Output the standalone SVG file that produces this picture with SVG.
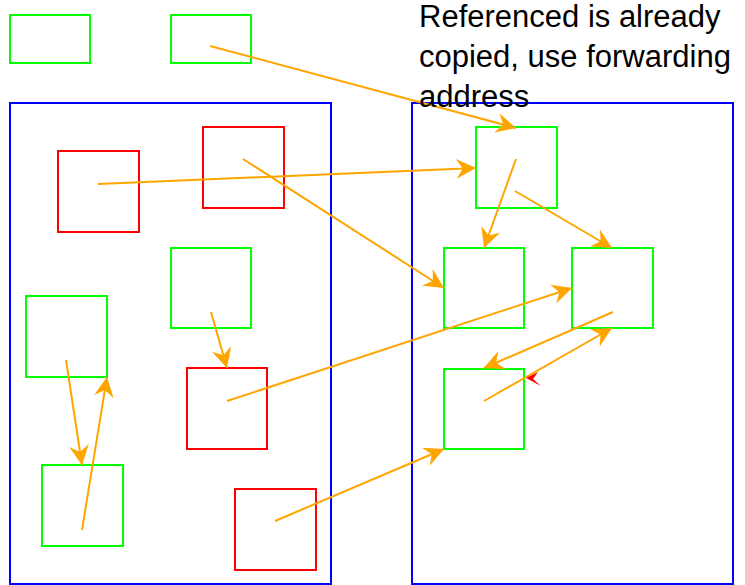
<svg xmlns="http://www.w3.org/2000/svg" width="745" height="585" viewBox="0 0 745 585">
<style>
.space{fill:none;stroke:#0000FF;stroke-width:2}
.live{fill:none;stroke:#00FF00;stroke-width:2}
.dead{fill:none;stroke:#FF0000;stroke-width:2}
.ptr{fill:none;stroke:#FFA500;stroke-width:2;marker-end:url(#ah)}
.label{font-family:"Liberation Sans",Arial,sans-serif;font-size:31px;fill:#000}
</style>
<defs>
<marker id="ah" markerUnits="userSpaceOnUse" markerWidth="22" markerHeight="22" viewBox="-19 -10 20 20" refX="0" refY="0" orient="auto">
<path d="M0,0 L-18,-9 L-12,0 L-18,9 Z" fill="#FFA500"/>
</marker>
</defs>
<g id="roots">
<rect id="root1" class="live" x="10" y="15" width="80" height="48"/>
<rect id="root2" class="live" x="171" y="15" width="80" height="48"/>
</g>
<g id="from-space">
<rect class="space" x="10" y="103" width="321" height="481"/>
</g>
<g id="to-space">
<rect class="space" x="412" y="103" width="321" height="481"/>
</g>
<g id="L1"><rect class="dead" x="58" y="151" width="81" height="81"/></g>
<g id="L2"><rect class="dead" x="203" y="127" width="81" height="81"/></g>
<g id="L3"><rect class="live" x="171" y="248" width="80" height="80"/></g>
<g id="L4"><rect class="live" x="26" y="296" width="81" height="81"/></g>
<g id="L5"><rect class="dead" x="187" y="368" width="80" height="81"/></g>
<g id="L6"><rect class="live" x="42" y="465" width="81" height="81"/></g>
<g id="L7"><rect class="dead" x="235" y="489" width="81" height="81"/></g>
<g id="R1"><rect class="live" x="476" y="127" width="81" height="81"/></g>
<g id="R2"><rect class="live" x="444" y="248" width="80" height="80"/></g>
<g id="R3"><rect class="live" x="572" y="248" width="81" height="80"/></g>
<g id="R4"><rect class="live" x="444" y="369" width="80" height="80"/></g>
<g id="connectors">
<line class="ptr" x1="210" y1="46" x2="516" y2="128"/>
<line class="ptr" x1="98" y1="184" x2="476" y2="168"/>
<line class="ptr" x1="243" y1="159" x2="444" y2="288"/>
<line class="ptr" x1="516" y1="159" x2="484" y2="248"/>
<line class="ptr" x1="515" y1="191" x2="612" y2="248"/>
<line class="ptr" x1="211" y1="312" x2="227" y2="368"/>
<line class="ptr" x1="66" y1="360" x2="82" y2="465"/>
<line class="ptr" x1="82" y1="530" x2="107" y2="377"/>
<line class="ptr" x1="227" y1="401" x2="572" y2="288"/>
<line class="ptr" x1="275" y1="521" x2="444" y2="449"/>
<line class="ptr" x1="613" y1="312" x2="484" y2="368"/>
<line class="ptr" x1="484" y1="401" x2="612" y2="328"/>
<path d="M526,378 L538,372 L533,379 L541,386 Z" fill="#FF0000"/>
</g>
<g id="note">
<text class="label" x="419" y="27">Referenced is already</text>
<text class="label" x="419" y="67">copied, use forwarding</text>
<text class="label" x="419" y="107">address</text>
</g>
</svg>
